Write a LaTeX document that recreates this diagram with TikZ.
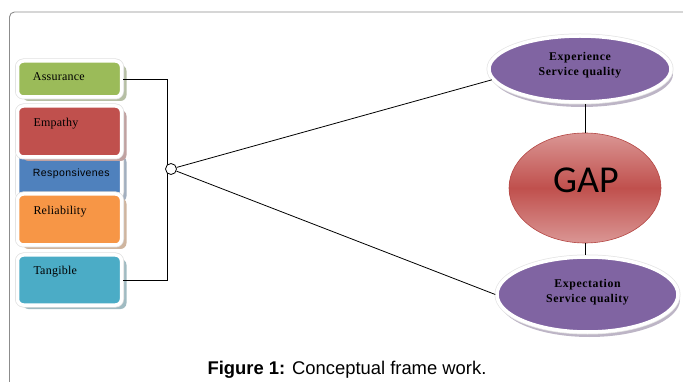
\documentclass[tikz,border=0pt]{standalone}
\usepackage{fontspec}
\setmainfont{Liberation Serif}
\setsansfont{Liberation Sans}
\newfontfamily\carlito{Carlito}
\usetikzlibrary{shapes.geometric,shadows}
\definecolor{cgreen}{RGB}{155,187,89}
\definecolor{cred}{RGB}{192,80,77}
\definecolor{cblue}{RGB}{79,129,189}
\definecolor{corange}{RGB}{247,150,70}
\definecolor{cteal}{RGB}{75,172,198}
\definecolor{cpurple}{RGB}{128,100,162}
\definecolor{gaplight}{RGB}{218,150,148}
\definecolor{gapedge}{RGB}{180,70,67}
\definecolor{framegray}{RGB}{140,140,140}
\begin{document}
\begin{tikzpicture}[x=1pt,y=-1pt,
  box/.style={rectangle, rounded corners=6pt, draw=white, line width=3.5pt, inner sep=0pt,
    minimum width=104pt,
    drop shadow={shadow xshift=5pt, shadow yshift=-4pt, opacity=1, fill=#1!60!black!45!white},
    preaction={draw=black!12, line width=5pt},
    fill=#1},
  boxtext/.style={anchor=base west, inner sep=0pt, font=\addfontfeature{LetterSpace=2}\fontsize{12}{14}\selectfont},
  oval/.style={ellipse, fill=cpurple, draw=white, line width=3.5pt, inner sep=0pt,
    drop shadow={shadow xshift=2pt, shadow yshift=-5pt, opacity=1, fill=black!30!cpurple!40!white},
    preaction={draw=black!10, line width=5pt}},
  ovaltext/.style={align=center, inner sep=0pt,
    font=\bfseries\addfontfeature{LetterSpace=5}\fontsize{11.8}{15}\selectfont},
  wire/.style={draw=black, line width=0.8pt}
]
\useasboundingbox (0,0) rectangle (683,382);
% frame
\draw[framegray, line width=0.9pt] (9.5,382) -- (9.5,17) arc[start angle=180, end angle=90, radius=5pt] -- (683,12);

% boxes
\node[box=cblue, minimum height=46pt] (resp) at (69.5,175) {};
\node[box=cgreen, minimum height=36pt] (assur) at (69.5,79) {};
\node[box=cred, minimum height=51pt] (emp) at (69.5,131.5) {};
\node[box=corange, minimum height=51pt] (rel) at (69.5,219.5) {};
\node[box=cteal, minimum height=50pt] (tang) at (69.5,280) {};

\node[boxtext] (assurT) at (32.7,81) {Assurance};
\node[boxtext] (empT) at (33.3,127) {Empathy};
\node[boxtext, font=\sffamily\addfontfeature{LetterSpace=4}\fontsize{10.5}{12}\selectfont] (respT) at (32.7,177) {Responsivenes};
\node[boxtext] (relT) at (33.3,215) {Reliability};
\node[boxtext] (tangT) at (33.3,275) {Tangible};

% bar and circle
\draw[wire] (assur.east) -- ++(44,0) |- (tang.east);
\node[circle, draw=black, line width=0.8pt, fill=white, minimum size=11pt, inner sep=0pt] (circ) at (171,169) {};

% ellipses
\node[oval, minimum width=182pt, minimum height=66pt] (exp) at (580,69) {};
\node[oval, minimum width=181pt, minimum height=75pt] (expe) at (587.5,294.5) {};
\node[ellipse, minimum width=152pt, minimum height=110pt, inner sep=0pt, draw=gapedge, line width=0.6pt,
  top color=gaplight, bottom color=gaplight, middle color=cred] (gap) at (585,188) {};

\node[ovaltext] (expT) at ([yshift=3.5pt]exp.center) {Experience\\Service quality};
\node[ovaltext] (expeT) at ([yshift=2.5pt]expe.center) {Expectation\\Service quality};
\node[anchor=base, inner sep=0pt, font=\carlito\fontsize{38}{40}\selectfont] (gapT) at (586,193) {GAP};

% connectors
\draw[wire] (circ) -- (exp.187);
\draw[wire] (circ) -- (expe.180);
\draw[wire] (gap.north) -- (gap.north |- exp.south);
\draw[wire] (gap.south) -- (gap.south |- expe.north);

% caption
\node[anchor=base, inner sep=0pt, font=\sffamily\fontsize{18.4}{20}\selectfont] (cap) at (347,374) {\textbf{Figure 1:} Conceptual frame work.};
\end{tikzpicture}
\end{document}
